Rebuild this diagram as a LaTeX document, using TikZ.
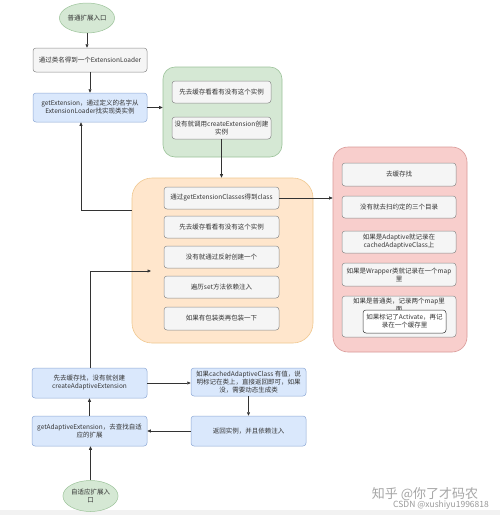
\documentclass[tikz,border=0pt]{standalone}
\usepackage{fontspec}
\setmainfont{Noto Sans CJK SC}
\usetikzlibrary{shapes.geometric,arrows.meta}
\definecolor{grayfill}{HTML}{F5F5F5}
\definecolor{graydraw}{HTML}{8A8A8A}
\definecolor{bluefill}{HTML}{DAE8FC}
\definecolor{bluedraw}{HTML}{8EA9D6}
\definecolor{greenfill}{HTML}{D5E8D4}
\definecolor{greendraw}{HTML}{9CC39A}
\definecolor{orangefill}{HTML}{FFE6CC}
\definecolor{orangedraw}{HTML}{F0C890}
\definecolor{redfill}{HTML}{F8CECC}
\definecolor{reddraw}{HTML}{D99A98}
\definecolor{textc}{HTML}{333333}
\definecolor{linec}{HTML}{333333}
\tikzset{
  box/.style={rectangle, rounded corners=3pt, line width=0.5pt, align=center,
    font=\fontsize{6.5}{8}\selectfont, text=textc, inner sep=1pt},
  graybox/.style={box, fill=grayfill, draw=graydraw},
  bluebox/.style={box, fill=bluefill, draw=bluedraw},
  whitebox/.style={box, fill=white, draw=textc},
  entry/.style={ellipse, fill=greenfill, draw=greendraw, line width=0.5pt, align=center,
    font=\fontsize{6.5}{8}\selectfont, text=textc, inner sep=0pt},
  container/.style={rectangle, line width=0.6pt},
  conn/.style={draw=linec, line width=0.6pt, -{Triangle[length=3.5pt,width=3pt]}},
  plain/.style={draw=linec, line width=0.6pt},
}
\begin{document}
\begin{tikzpicture}[x=1pt,y=-1pt]
\useasboundingbox (0,0) rectangle (500,515);
\fill[white] (0,0) rectangle (500,515);
\fill[black!5] (0,510) rectangle (500,515);

% containers
\node[container, fill=greenfill, draw=greendraw, rounded corners=12pt, minimum width=119pt, minimum height=90pt] (g) at (222.5,112) {};
\node[container, fill=orangefill, draw=orangedraw, rounded corners=20pt, minimum width=181pt, minimum height=165pt] (o) at (222.5,260.5) {};
\node[container, fill=redfill, draw=reddraw, rounded corners=15pt, minimum width=134pt, minimum height=205pt] (r) at (400,249.5) {};

% top left
\node[entry, minimum width=46pt, minimum height=30pt] (e1) at (87,18) {普通扩展入口};
\node[graybox, minimum width=114pt, minimum height=24pt] (b1) at (90,60) {通过类名得到一个ExtensionLoader};
\node[bluebox, minimum width=114pt, minimum height=29pt] (b2) at (90,107.5) {getExtension，通过定义的名字从\\ExtensionLoader找实现类实例};

% green inner
\node[graybox, minimum width=99pt, minimum height=22pt] (g1) at (221.5,92) {先去缓存看看有没有这个实例};
\node[graybox, minimum width=99pt, minimum height=22pt] (g2) at (221.5,128) {没有就调用createExtension创建\\实例};

% orange inner
\node[graybox, minimum width=115pt, minimum height=22pt] (o1) at (221.5,198) {通过getExtensionClasses得到class};
\node[graybox, minimum width=115pt, minimum height=22pt] (o2) at (221.5,227) {先去缓存看看有没有这个实例};
\node[graybox, minimum width=115pt, minimum height=22pt] (o3) at (221.5,257) {没有就通过反射创建一个};
\node[graybox, minimum width=115pt, minimum height=22pt] (o4) at (221.5,287) {遍历set方法依赖注入};
\node[graybox, minimum width=115pt, minimum height=23pt] (o5) at (221.5,318.5) {如果有包装类再包装一下};

% red inner
\node[graybox, minimum width=114pt, minimum height=23pt] (r1) at (399,174.5) {去缓存找};
\node[graybox, minimum width=114pt, minimum height=22pt] (r2) at (399,207) {没有就去扫约定的三个目录};
\node[graybox, minimum width=114pt, minimum height=22pt] (r3) at (399,242) {如果是Adaptive就记录在\\cachedAdaptiveClass上};
\node[graybox, minimum width=114pt, minimum height=23pt] (r4) at (399,274.5) {如果是Wrapper类就记录在一个map\\里};
\node[graybox, minimum width=114pt, minimum height=41pt] (r5) at (399,316.5) {};
\node[box, anchor=north] (r5t) at (399,297) {如果是普通类，记录两个map里\\面};
\node[whitebox, minimum width=83pt, minimum height=23pt] (r6) at (404.5,321.5) {如果标记了Activate，再记\\录在一个缓存里};

% bottom left
\node[bluebox, minimum width=115pt, minimum height=30pt] (a1) at (89.5,383) {先去缓存找，没有就创建\\createAdaptiveExtension};
\node[bluebox, minimum width=115pt, minimum height=30pt] (a2) at (89.5,431) {getAdaptiveExtension，去查找自适\\应的扩展};
\node[entry, minimum width=45pt, minimum height=31pt] (e2) at (90.5,496) {自适应扩展入\\口};
\node[bluebox, minimum width=115pt, minimum height=28pt] (a3) at (248.5,382) {如果cachedAdaptiveClass 有值，说\\明标记在类上，直接返回即可，如果\\没，需要动态生成类};
\node[bluebox, minimum width=115pt, minimum height=30pt] (a4) at (248.5,431) {返回实例，并且依赖注入};

% connectors
\draw[conn] (e1.south) -- (e1.south |- b1.north);
\draw[conn] (b1.south) -- (b2.north);
\draw[conn] (b2.east) -- (b2.east -| g.west);
\draw[conn] (g2.south) -- (g2.south |- o.north);
\coordinate (c1) at (81,210);
\draw[conn] (o.west |- c1) -- (c1) -- (c1 |- b2.south);
\coordinate (c2) at (90,271);
\coordinate (c3) at (151,271);
\draw[conn] (a1.north -| c2) -- (c2) -- (c3);
\draw[conn] (o1.east) -- (o1.east -| r.west);
\draw[conn] (e2.north) -- (e2.north |- a2.south);
\draw[conn] (a2.north) -- (a1.south);
\draw[conn] (a1.east) -- (a1.east -| a3.west);
\draw[conn] (a3.south) -- (a4.north);
\draw[conn] (a4.west) -- (a4.west -| a2.east);

% watermark
\node[text=black!35, font=\fontsize{13}{14}\selectfont, inner sep=0pt] (wm1) at (425,494) {知乎 @你了才码农};
\node[text=black!40, font=\fontsize{8.5}{9}\selectfont, inner sep=0pt] (wm2) at (441,505) {CSDN @xushiyu1996818};
\end{tikzpicture}
\end{document}
